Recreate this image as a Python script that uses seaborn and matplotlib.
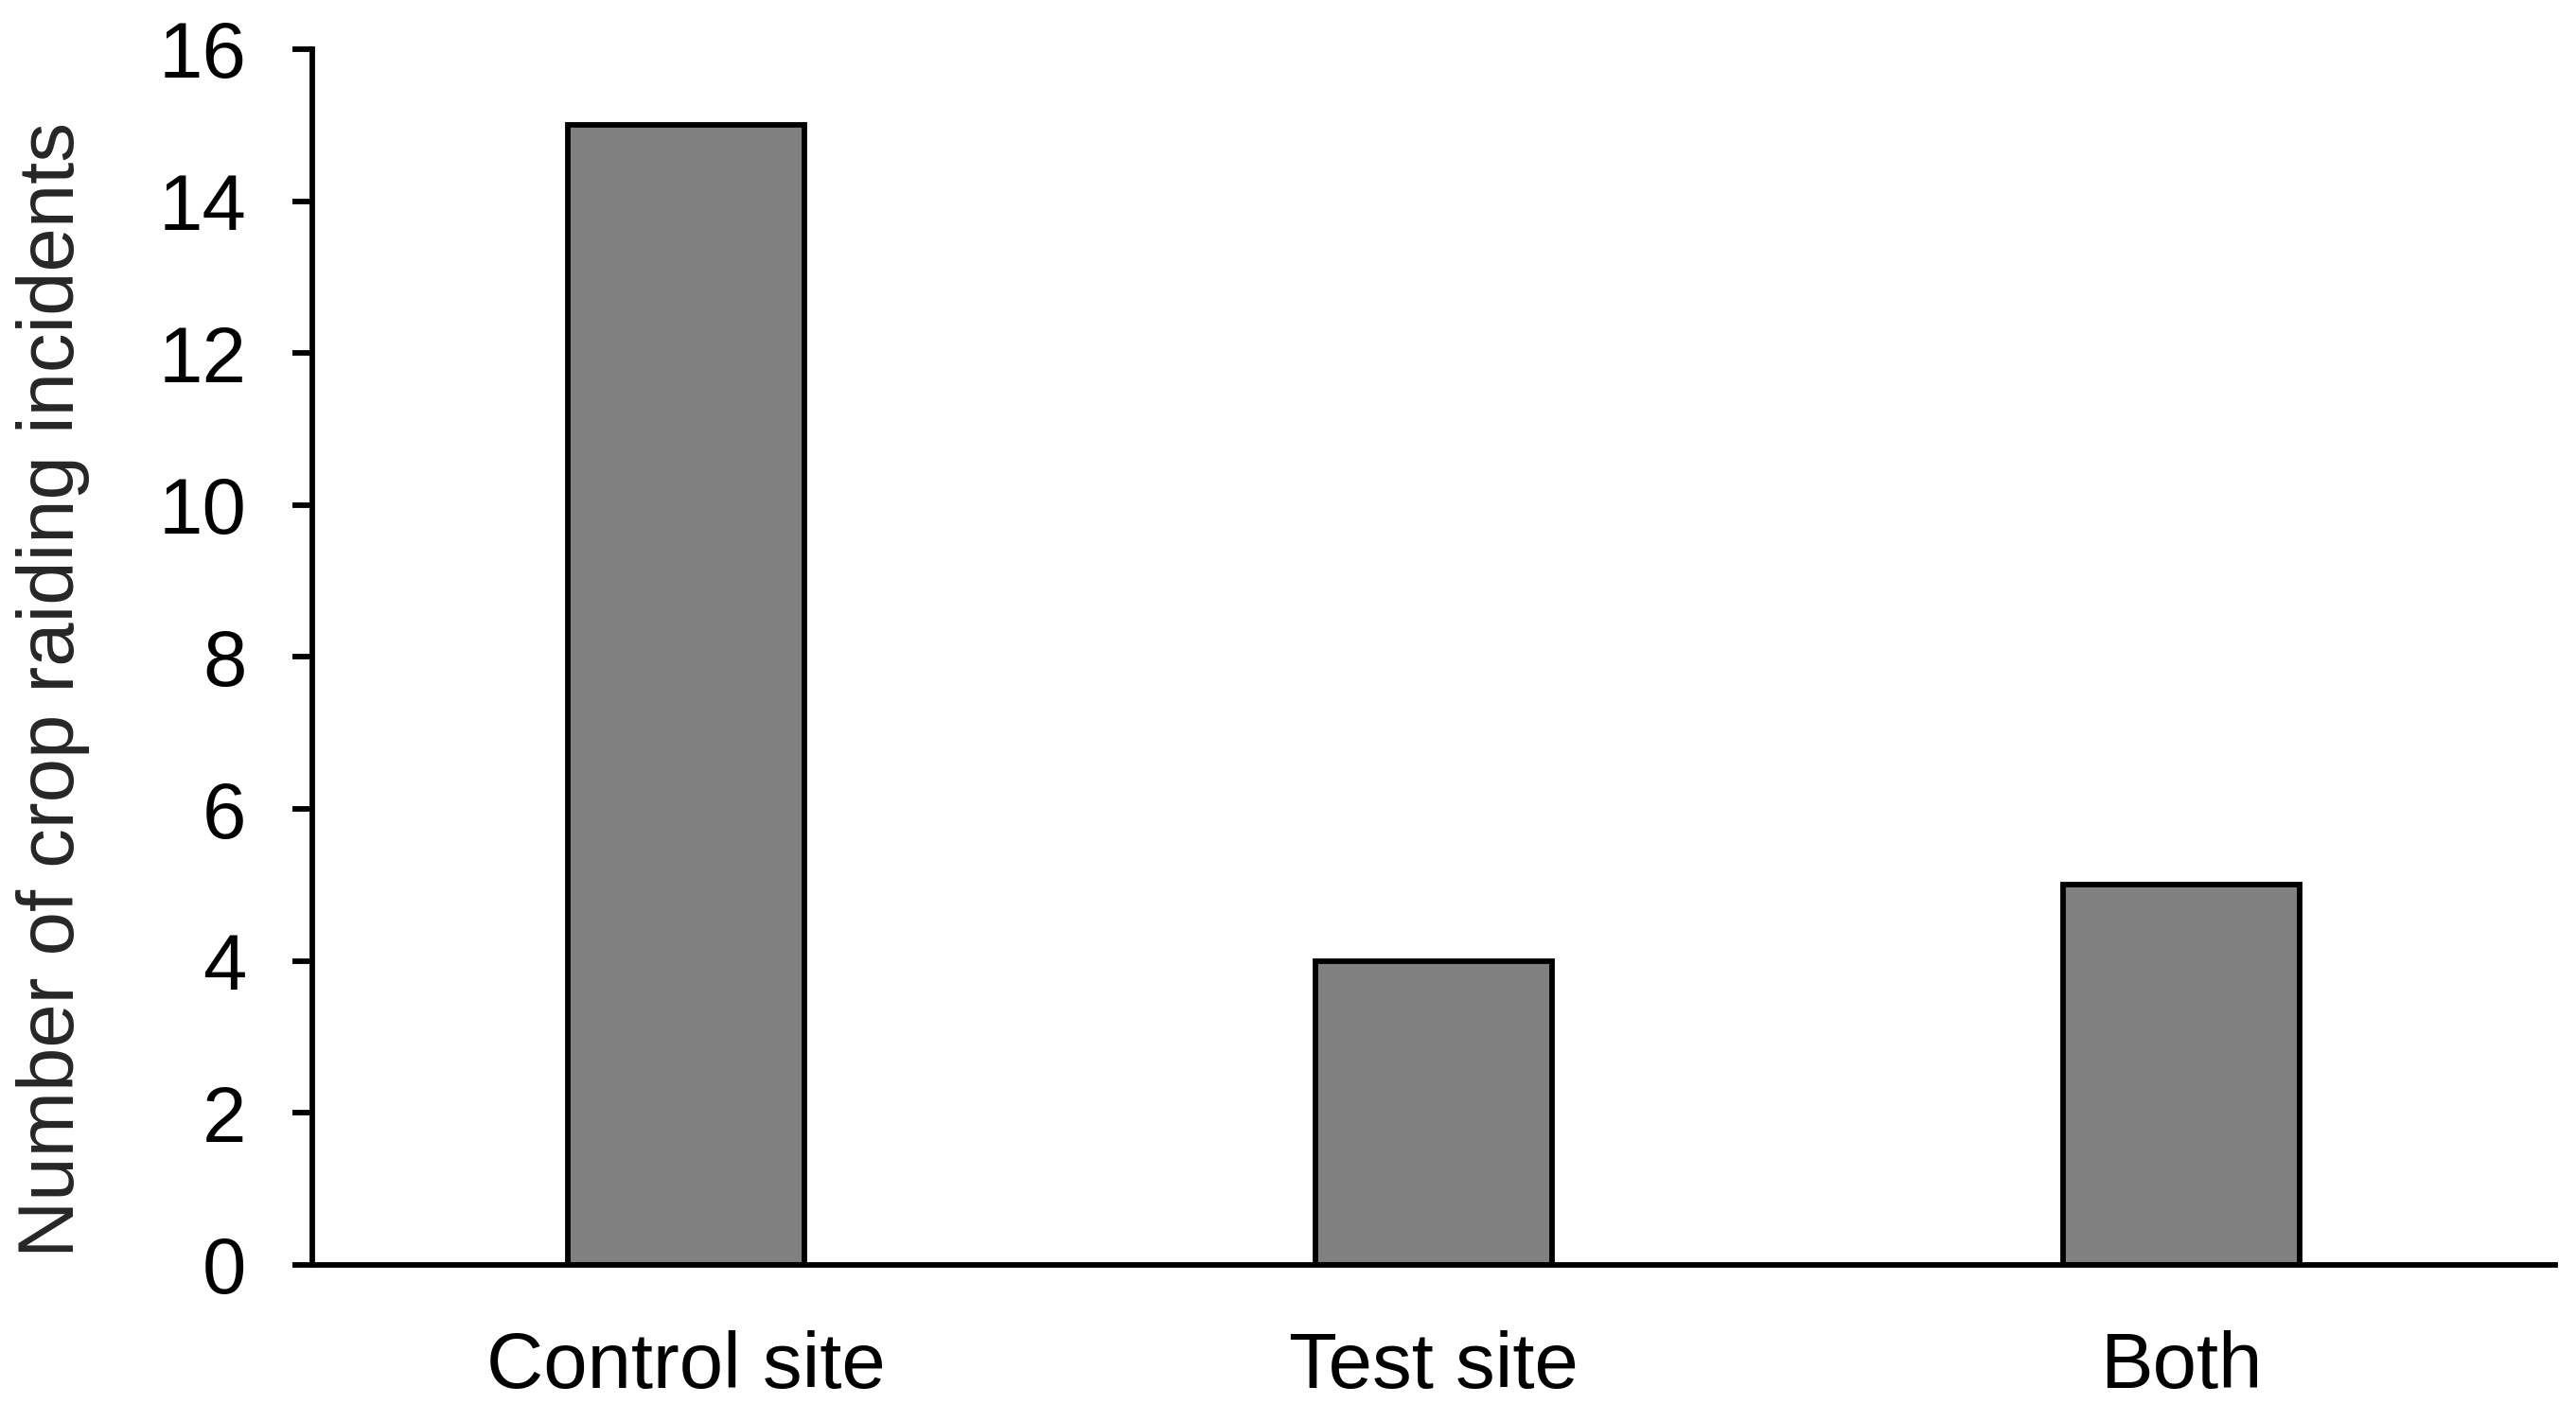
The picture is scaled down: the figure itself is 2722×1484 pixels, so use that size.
import matplotlib
matplotlib.use("Agg")
import pandas as pd
import seaborn as sns
from matplotlib import pyplot as plt

# values
sites = ["Control site", "Test site", "Both"]
incidents = [15, 4, 5]
y_ticks = [0, 2, 4, 6, 8, 10, 12, 14, 16]

sns.set_style("white")
plt.rcParams["font.family"] = ["Liberation Sans", "DejaVu Sans"]

data = pd.DataFrame({"site": sites, "incidents": incidents})

fig = plt.figure(figsize=(27.22, 14.84), dpi=100)
ax = fig.add_axes([0.1212, 0.0991, 0.8708, 0.8659])

sns.barplot(data=data, x="site", y="incidents", color="#808080",
            saturation=1, width=0.316, edgecolor="black", linewidth=4.2,
            ax=ax)

ax.set_xlim(-0.5, 2.5)
ax.set_ylim(0, 16)
ax.set_yticks(y_ticks)
ax.set_xlabel("")
ax.set_ylabel("Number of crop raiding incidents", fontsize=60)
ax.yaxis.set_label_coords(-0.099, 0.473)

for side in ["top", "right"]:
    ax.spines[side].set_visible(False)
for side in ["left", "bottom"]:
    ax.spines[side].set_linewidth(4.2)
    ax.spines[side].set_color("black")

ax.tick_params(axis="y", direction="out", length=15, width=4.2, pad=35,
               labelsize=60, left=True, colors="black")
ax.tick_params(axis="x", length=0, pad=50, labelsize=60, colors="black")

fig.savefig("out.png", dpi=100, facecolor="white")
